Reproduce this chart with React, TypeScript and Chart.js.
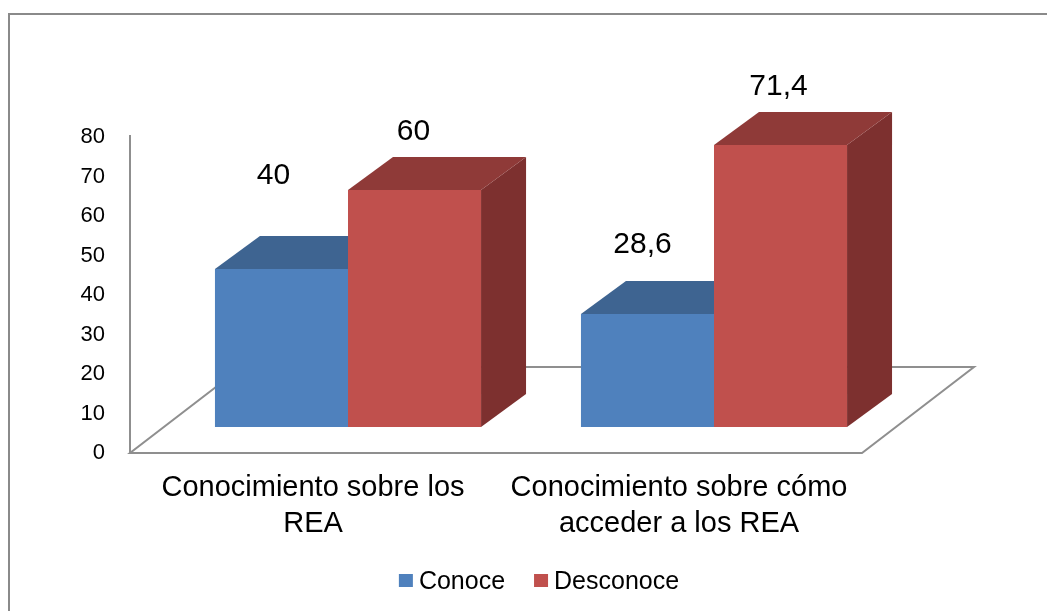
import { useEffect, useRef } from 'react';
import { Chart, registerables } from 'chart.js';

Chart.register(...registerables);

const categories: string[][] = [
  ['Conocimiento sobre los', 'REA'],
  ['Conocimiento sobre cómo', 'acceder a los REA'],
];
const seriesNames = ['Conoce', 'Desconoce'];
const conoce = [40, 28.6];
const desconoce = [60, 71.4];
const yTicks = [0, 10, 20, 30, 40, 50, 60, 70, 80];

const FONT = '"Liberation Sans", Arial, sans-serif';
const COLORS = [
  { front: '#4F81BD', top: '#3E6491', side: '#34557D' },
  { front: '#C0504D', top: '#8F3A38', side: '#7D302F' },
];
const DEPTH = { dx: 45, dy: -33 };
const FRONT = { dx: -35, dy: 26 };
const FLOOR_DEPTH = { dx: 112, dy: -86 };
const LABEL_SHIFT = [
  [{ x: -8, y: -93 }, { x: -5, y: -69 }],
  [{ x: -1, y: -58 }, { x: -2, y: -58 }],
];

const fmt = (v: number) => String(v).replace('.', ',');

const threeD = {
  id: 'threeD',
  beforeDraw(chart: any) {
    const ctx = chart.ctx;
    ctx.save();
    ctx.fillStyle = '#ffffff';
    ctx.fillRect(0, 0, chart.width, chart.height);
    ctx.strokeStyle = '#8a8a8a';
    ctx.lineWidth = 2;
    ctx.strokeRect(9, 14, chart.width + 20, chart.height + 20);
    ctx.restore();
  },
  beforeDatasetsDraw(chart: any) {
    const ctx = chart.ctx;
    const area = chart.chartArea;
    const y = chart.scales.y;
    const base = y.getPixelForValue(0) + FRONT.dy;
    const top = y.getPixelForValue(80) + FRONT.dy;
    const fl = area.left + FRONT.dx;
    const fr = area.right + FRONT.dx;
    ctx.save();
    // floor
    ctx.beginPath();
    ctx.moveTo(fl, base);
    ctx.lineTo(fr, base);
    ctx.lineTo(fr + FLOOR_DEPTH.dx, base + FLOOR_DEPTH.dy);
    ctx.lineTo(fl + FLOOR_DEPTH.dx, base + FLOOR_DEPTH.dy);
    ctx.closePath();
    ctx.fillStyle = '#ffffff';
    ctx.fill();
    ctx.strokeStyle = '#8f8f8f';
    ctx.lineWidth = 2;
    ctx.stroke();
    // value axis line
    ctx.beginPath();
    ctx.moveTo(fl, base);
    ctx.lineTo(fl, top - 2);
    ctx.stroke();
    // bar tops and sides
    chart.data.datasets.forEach((_ds: any, di: number) => {
      const meta = chart.getDatasetMeta(di);
      const c = COLORS[di];
      meta.data.forEach((bar: any) => {
        const p = bar.getProps(['x', 'y', 'base', 'width'], true);
        const l = p.x - p.width / 2;
        const r = p.x + p.width / 2;
        ctx.fillStyle = c.side;
        ctx.beginPath();
        ctx.moveTo(r, p.y);
        ctx.lineTo(r + DEPTH.dx, p.y + DEPTH.dy);
        ctx.lineTo(r + DEPTH.dx, p.base + DEPTH.dy);
        ctx.lineTo(r, p.base);
        ctx.closePath();
        ctx.fill();
        ctx.fillStyle = c.top;
        ctx.beginPath();
        ctx.moveTo(l, p.y);
        ctx.lineTo(r, p.y);
        ctx.lineTo(r + DEPTH.dx, p.y + DEPTH.dy);
        ctx.lineTo(l + DEPTH.dx, p.y + DEPTH.dy);
        ctx.closePath();
        ctx.fill();
      });
    });
    ctx.restore();
  },
  afterDatasetsDraw(chart: any) {
    const ctx = chart.ctx;
    ctx.save();
    ctx.fillStyle = '#000';
    ctx.font = `30px ${FONT}`;
    ctx.textAlign = 'center';
    ctx.textBaseline = 'middle';
    chart.data.datasets.forEach((ds: any, di: number) => {
      const meta = chart.getDatasetMeta(di);
      meta.data.forEach((bar: any, i: number) => {
        const p = bar.getProps(['x', 'y'], true);
        const s = LABEL_SHIFT[di][i];
        ctx.fillText(fmt(ds.data[i]), p.x + s.x, p.y + s.y);
      });
    });
    ctx.restore();
  },
  afterDraw(chart: any) {
    const ctx = chart.ctx;
    const area = chart.chartArea;
    ctx.save();
    ctx.font = `25px ${FONT}`;
    const box = 14;
    const gap = 6;
    const spacing = 29;
    const widths = chart.data.datasets.map((d: any) => ctx.measureText(d.label).width);
    const total = widths.reduce((a: number, w: number) => a + box + gap + w, 0) + spacing * (widths.length - 1);
    let x = (area.left + area.right) / 2 + 8 - total / 2;
    const baseline = 589;
    ctx.textBaseline = 'alphabetic';
    ctx.textAlign = 'left';
    chart.data.datasets.forEach((d: any, i: number) => {
      ctx.fillStyle = d.backgroundColor;
      ctx.fillRect(x, baseline - 15, box, 13);
      ctx.fillStyle = '#000';
      ctx.fillText(d.label, x + box + gap, baseline);
      x += box + gap + widths[i] + spacing;
    });
    ctx.restore();
  },
};

export default function App() {
  const ref = useRef<HTMLCanvasElement>(null);
  useEffect(() => {
    const canvas = ref.current!;
    const chart = new Chart(canvas, {
      type: 'bar',
      data: {
        labels: categories as any,
        datasets: [
          { label: seriesNames[0], data: conoce, backgroundColor: COLORS[0].front },
          { label: seriesNames[1], data: desconoce, backgroundColor: COLORS[1].front },
        ],
      },
      options: {
        animation: false,
        responsive: false,
        layout: { padding: { top: 111, right: 150, bottom: 0, left: 0 } },
        datasets: { bar: { categoryPercentage: 0.727, barPercentage: 1, borderWidth: 0 } },
        scales: {
          x: {
            grid: { display: false, drawTicks: false },
            border: { display: false },
            ticks: {
              font: { family: FONT, size: 29, lineHeight: 1.24 },
              color: '#000',
              padding: 43,
              labelOffset: -35,
              maxRotation: 0,
              autoSkip: false,
            },
            afterFit: (s: any) => {
              s.height = 184;
            },
          },
          y: {
            min: 0,
            max: 80,
            grid: { display: false, drawTicks: false },
            border: { display: false },
            ticks: {
              font: { family: FONT, size: 22 },
              color: '#000',
              padding: 60,
              labelOffset: 26,
            },
            afterBuildTicks: (s: any) => {
              s.ticks = yTicks.map((v) => ({ value: v }));
            },
            afterFit: (s: any) => {
              s.width = 165;
            },
          },
        },
        plugins: { legend: { display: false }, tooltip: { enabled: false } },
      },
      plugins: [threeD],
    });
    return () => chart.destroy();
  }, []);
  return (
    <div style={{ position: 'absolute', left: 0, top: 0, width: 1047, height: 611, background: '#fff' }}>
      <canvas ref={ref} width={1047} height={611} />
    </div>
  );
}
